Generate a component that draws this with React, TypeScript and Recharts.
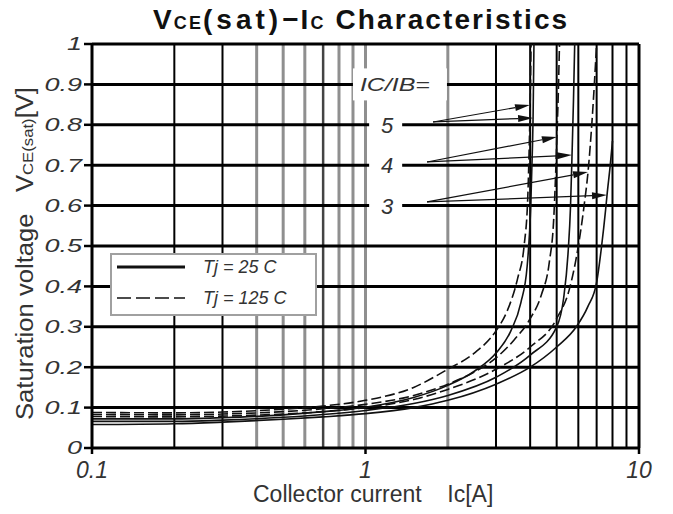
import React from 'react';
import { LineChart, Line, XAxis, YAxis, ReferenceLine, ReferenceDot, Legend } from 'recharts';

type P = { x: number; y: number };

// ---- axes / grid ----
const xTicks = [0.1, 1, 10];
const yTicks = [0, 0.1, 0.2, 0.3, 0.4, 0.5, 0.6, 0.7, 0.8, 0.9, 1];
const xGridBlack = [0.2, 0.3, 3, 4, 5, 6, 7, 8, 9];
const xGridGrey = [0.4, 0.5, 0.6, 0.8, 0.9, 1, 2];
const xGridDark = [0.7];
const yGrid = [0.1, 0.2, 0.3, 0.4, 0.5, 0.6, 0.7, 0.8, 0.9];

// ---- series (Ic [A], Vce(sat) [V]) ----
const tj125Ratio5: P[] = [
  { x: 0.1, y: 0.088 }, { x: 0.2, y: 0.087 }, { x: 0.3, y: 0.089 }, { x: 0.5, y: 0.096 },
  { x: 0.7, y: 0.104 }, { x: 1, y: 0.118 }, { x: 1.5, y: 0.15 }, { x: 2, y: 0.195 },
  { x: 2.5, y: 0.235 }, { x: 3, y: 0.29 }, { x: 3.3, y: 0.34 }, { x: 3.6, y: 0.42 },
  { x: 3.8, y: 0.5 }, { x: 3.92, y: 0.62 }, { x: 3.97, y: 0.75 }, { x: 4.0, y: 0.85 }, { x: 4.03, y: 1.0 },
];
const tj25Ratio5: P[] = [
  { x: 0.1, y: 0.072 }, { x: 0.2, y: 0.072 }, { x: 0.3, y: 0.075 }, { x: 0.5, y: 0.082 },
  { x: 0.7, y: 0.09 }, { x: 1, y: 0.101 }, { x: 1.5, y: 0.125 }, { x: 2, y: 0.155 },
  { x: 2.5, y: 0.19 }, { x: 3, y: 0.235 }, { x: 3.4, y: 0.29 }, { x: 3.7, y: 0.36 },
  { x: 3.9, y: 0.45 }, { x: 4.02, y: 0.6 }, { x: 4.08, y: 0.75 }, { x: 4.1, y: 0.82 }, { x: 4.13, y: 1.0 },
];
const tj125Ratio4: P[] = [
  { x: 0.1, y: 0.083 }, { x: 0.2, y: 0.082 }, { x: 0.3, y: 0.084 }, { x: 0.5, y: 0.09 },
  { x: 0.7, y: 0.097 }, { x: 1, y: 0.108 }, { x: 1.5, y: 0.13 }, { x: 2, y: 0.158 },
  { x: 2.5, y: 0.188 }, { x: 3, y: 0.223 }, { x: 3.5, y: 0.268 }, { x: 4, y: 0.32 },
  { x: 4.4, y: 0.38 }, { x: 4.7, y: 0.46 }, { x: 4.88, y: 0.57 }, { x: 4.97, y: 0.7 },
  { x: 5.01, y: 0.77 }, { x: 5.07, y: 0.88 }, { x: 5.12, y: 1.0 },
];
const tj25Ratio4: P[] = [
  { x: 0.1, y: 0.066 }, { x: 0.2, y: 0.066 }, { x: 0.3, y: 0.069 }, { x: 0.5, y: 0.076 },
  { x: 0.7, y: 0.083 }, { x: 1, y: 0.093 }, { x: 1.5, y: 0.11 }, { x: 2, y: 0.13 },
  { x: 3, y: 0.175 }, { x: 4, y: 0.23 }, { x: 5, y: 0.3 }, { x: 5.3, y: 0.37 },
  { x: 5.5, y: 0.48 }, { x: 5.62, y: 0.6 }, { x: 5.69, y: 0.725 }, { x: 5.76, y: 0.86 }, { x: 5.82, y: 1.0 },
];
const tj125Ratio3: P[] = [
  { x: 0.1, y: 0.078 }, { x: 0.2, y: 0.077 }, { x: 0.3, y: 0.079 }, { x: 0.5, y: 0.084 },
  { x: 0.7, y: 0.09 }, { x: 1, y: 0.1 }, { x: 1.5, y: 0.12 }, { x: 2, y: 0.145 },
  { x: 3, y: 0.195 }, { x: 4, y: 0.25 }, { x: 5, y: 0.32 }, { x: 5.6, y: 0.4 },
  { x: 6.0, y: 0.5 }, { x: 6.3, y: 0.6 }, { x: 6.51, y: 0.683 }, { x: 6.75, y: 0.82 }, { x: 7.0, y: 1.0 },
];
const tj25Ratio3: P[] = [
  { x: 0.1, y: 0.058 }, { x: 0.2, y: 0.06 }, { x: 0.3, y: 0.064 }, { x: 0.5, y: 0.071 },
  { x: 0.7, y: 0.077 }, { x: 1, y: 0.085 }, { x: 1.5, y: 0.1 }, { x: 2, y: 0.118 },
  { x: 3, y: 0.158 }, { x: 4, y: 0.2 }, { x: 5, y: 0.25 }, { x: 5.9, y: 0.3 },
  { x: 6.5, y: 0.35 }, { x: 7.0, y: 0.41 }, { x: 7.3, y: 0.5 }, { x: 7.55, y: 0.59 },
  { x: 7.64, y: 0.626 }, { x: 7.85, y: 0.7 }, { x: 8.0, y: 0.76 },
];

// ---- annotations ----
const ratioHeader = { text: 'IC/IB=', x: 1.26, y: 0.9 };
const ratioLabels = [
  { text: '5', x: 1.2, y: 0.8 },
  { text: '4', x: 1.2, y: 0.7 },
  { text: '3', x: 1.2, y: 0.6 },
];
const arrows = [
  { x1: 1.766, y1: 0.807, x2: 3.995, y2: 0.849 },
  { x1: 1.766, y1: 0.807, x2: 4.1, y2: 0.817 },
  { x1: 1.679, y1: 0.708, x2: 5.01, y2: 0.77 },
  { x1: 1.679, y1: 0.708, x2: 5.69, y2: 0.725 },
  { x1: 1.679, y1: 0.609, x2: 6.51, y2: 0.683 },
  { x1: 1.679, y1: 0.609, x2: 7.64, y2: 0.626 },
];
const legendItems = [
  { label: 'Tj = 25 C', dash: '' },
  { label: 'Tj = 125 C', dash: '14 5' },
];

const FONT = '"Liberation Sans", Arial, Helvetica, sans-serif';
const TXT = '#333';

const fmtY = (v: number) => (v === 0 ? '0' : v === 1 ? '1' : v.toFixed(1));
const fmtX = (v: number) => (v < 1 ? v.toFixed(1) : String(v));

const YTick = (props: any) => {
  const { x, y, payload } = props;
  return (
    <g transform={`translate(${x},${y}) scale(1.5,1)`}>
      <text x={0} y={0} dy="0.36em" textAnchor="end" fontSize={18} fontStyle="italic" fontFamily={FONT} fill={TXT}>
        {fmtY(payload.value)}
      </text>
    </g>
  );
};

const XTick = (props: any) => {
  const { x, y, payload } = props;
  return (
    <text x={x} y={y + 22} textAnchor="middle" fontSize={23} fontStyle="italic" fontFamily={FONT} fill={TXT}>
      {fmtX(payload.value)}
    </text>
  );
};

const Arrow = (p: any) => {
  const { x1, y1, x2, y2 } = p;
  const dx = x2 - x1;
  const dy = y2 - y1;
  const len = Math.sqrt(dx * dx + dy * dy) || 1;
  const ux = dx / len;
  const uy = dy / len;
  const hl = 15;
  const hw = 3.5;
  const bx = x2 - ux * hl;
  const by = y2 - uy * hl;
  const pts = `${x2},${y2} ${bx - uy * hw},${by + ux * hw} ${bx + uy * hw},${by - ux * hw}`;
  return (
    <g>
      <line x1={x1} y1={y1} x2={bx} y2={by} stroke="#111" strokeWidth={1.2} />
      <polygon points={pts} fill="#111" />
    </g>
  );
};

const HeaderShape = (p: any) => {
  const { cx, cy } = p;
  return (
    <g>
      <rect x={cx - 40} y={cy - 16} width={94} height={32} fill="#fff" />
      <text x={cx - 33} y={cy + 7} fontSize={19} fontStyle="italic" fontFamily={FONT} fill={TXT} textLength={70} lengthAdjust="spacingAndGlyphs">
        {ratioHeader.text}
      </text>
    </g>
  );
};

const makeNumShape = (text: string) => (p: any) => {
  const { cx, cy } = p;
  return (
    <g>
      <rect x={cx - 18} y={cy - 4} width={33} height={8} fill="#fff" />
      <text x={cx} y={cy + 8} textAnchor="middle" fontSize={22} fontStyle="italic" fontFamily={FONT} fill={TXT}>
        {text}
      </text>
    </g>
  );
};

const LegendBox = () => (
  <svg width={207} height={63} style={{ display: 'block' }}>
    <rect x={1} y={1} width={205} height={61} fill="#fff" stroke="#a0a0a0" strokeWidth={2} />
    {legendItems.map((it, i) => (
      <g key={it.label}>
        <line x1={7} x2={75} y1={14 + i * 31} y2={14 + i * 31} stroke="#111" strokeWidth={i === 0 ? 3 : 1.5} strokeDasharray={it.dash || undefined} />
        <text x={93} y={20 + i * 31} fontSize={18} fontStyle="italic" fontFamily={FONT} fill={TXT}>
          {it.label}
        </text>
      </g>
    ))}
  </svg>
);

const series = [
  { data: tj125Ratio5, dash: '10 4', name: 'Tj = 125 C, IC/IB = 5' },
  { data: tj25Ratio5, dash: '', name: 'Tj = 25 C, IC/IB = 5' },
  { data: tj125Ratio4, dash: '10 4', name: 'Tj = 125 C, IC/IB = 4' },
  { data: tj25Ratio4, dash: '', name: 'Tj = 25 C, IC/IB = 4' },
  { data: tj125Ratio3, dash: '10 4', name: 'Tj = 125 C, IC/IB = 3' },
  { data: tj25Ratio3, dash: '', name: 'Tj = 25 C, IC/IB = 3' },
];

export default function App() {
  return (
    <div style={{ position: 'relative', width: 665, height: 506, fontFamily: FONT }}>
      <LineChart width={665} height={506} margin={{ top: 36, right: 34, bottom: 36, left: 0 }}>
        <XAxis
          dataKey="x"
          type="number"
          scale="log"
          domain={[0.1, 10]}
          ticks={xTicks}
          allowDataOverflow
          height={30}
          axisLine={{ stroke: '#000', strokeWidth: 3 }}
          tickLine={{ stroke: '#000', strokeWidth: 2.5 }}
          tickSize={6}
          tick={<XTick />}
        />
        <YAxis
          type="number"
          domain={[0, 1]}
          ticks={yTicks}
          allowDataOverflow
          width={84}
          axisLine={{ stroke: '#000', strokeWidth: 3 }}
          tickLine={{ stroke: '#000', strokeWidth: 2.5 }}
          tickSize={8}
          tickMargin={2}
          tick={<YTick />}
        />
        {xGridGrey.map((v) => (
          <ReferenceLine key={'g' + v} x={v} stroke="#8f8f8f" strokeWidth={3} />
        ))}
        {xGridDark.map((v) => (
          <ReferenceLine key={'d' + v} x={v} stroke="#444" strokeWidth={2.5} />
        ))}
        {xGridBlack.map((v) => (
          <ReferenceLine key={'b' + v} x={v} stroke="#000" strokeWidth={2} />
        ))}
        {yGrid.map((v) => (
          <ReferenceLine key={'h' + v} y={v} stroke="#000" strokeWidth={3} />
        ))}
        <ReferenceLine y={1} stroke="#000" strokeWidth={3} />
        <ReferenceLine x={10} stroke="#000" strokeWidth={3} />
        <ReferenceDot x={ratioHeader.x} y={ratioHeader.y} r={1} shape={HeaderShape} />
        {ratioLabels.map((l) => (
          <ReferenceDot key={l.text} x={l.x} y={l.y} r={1} shape={makeNumShape(l.text)} />
        ))}
        {series.map((s) => (
          <Line
            key={s.name}
            data={s.data}
            dataKey="y"
            name={s.name}
            type="monotone"
            stroke="#111"
            strokeWidth={1.6}
            strokeDasharray={s.dash || undefined}
            dot={false}
            activeDot={false}
            isAnimationActive={false}
            legendType="none"
          />
        ))}
        {arrows.map((a, i) => (
          <ReferenceLine
            key={'a' + i}
            segment={[{ x: a.x1, y: a.y1 }, { x: a.x2, y: a.y2 }]}
            shape={Arrow}
          />
        ))}
        <Legend
          layout="horizontal"
          verticalAlign="middle"
          align="center"
          width={207}
          height={63}
          wrapperStyle={{ left: 102, top: 245, width: 207, height: 63 }}
          content={() => <LegendBox />}
        />
      </LineChart>
      <svg width={665} height={506} style={{ position: 'absolute', left: 0, top: 0, pointerEvents: 'none' }}>
        <text x={145} y={21} fontSize={28} fontWeight="bold" fontFamily={FONT} fill="#111" letterSpacing={2.1}>
          V<tspan fontSize={18}>CE</tspan>
          <tspan letterSpacing={4}>(sat)</tspan>−I<tspan fontSize={18}>C</tspan>{' Characteristics'}
        </text>
        <text x={245} y={494} fontSize={23} fontFamily={FONT} fill={TXT} style={{ whiteSpace: 'pre' }}>
          {'Collector current    Ic[A]'}
        </text>
        <text
          transform="translate(25,412) rotate(-90)"
          x={0}
          y={0}
          fontSize={23}
          fontFamily={FONT}
          fill={TXT}
          textLength={333}
          lengthAdjust="spacingAndGlyphs"
          style={{ whiteSpace: 'pre' }}
        >
          <tspan>{'Saturation voltage   V'}</tspan>
          <tspan fontSize={15}>CE(sat)</tspan>
          <tspan>[V]</tspan>
        </text>
      </svg>
    </div>
  );
}
